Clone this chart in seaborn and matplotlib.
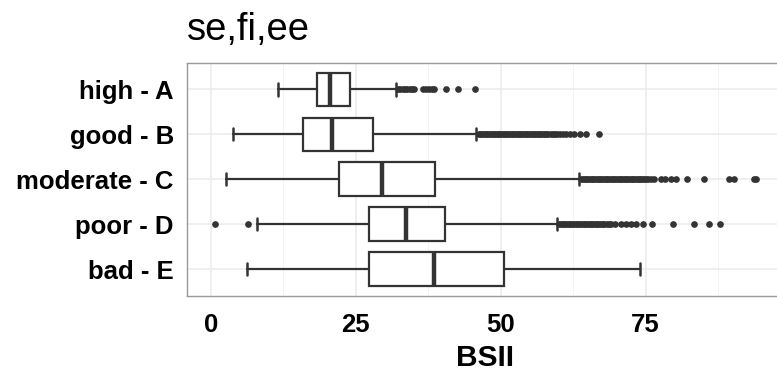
import matplotlib
matplotlib.use("Agg")
import matplotlib.pyplot as plt
import seaborn as sns

# categories (top to bottom)
categories = ["high - A", "good - B", "moderate - C", "poor - D", "bad - E"]

# box statistics
whisker_low = [11.6, 3.8, 2.7, 7.9, 6.3]
q1 = [18.4, 15.9, 22.1, 27.3, 27.3]
median = [20.6, 20.9, 29.6, 33.6, 38.5]
q3 = [24.0, 28.0, 38.6, 40.4, 50.5]
whisker_high = [31.9, 45.8, 63.5, 59.8, 74.1]

# outliers per category
fliers_a = [32.3, 32.7, 33.1, 33.5, 33.9, 34.3, 34.7, 35.1,
            36.6, 37.1, 37.6, 38.1, 38.5, 40.5, 42.7, 45.5]
fliers_b = [46.2, 46.5, 46.8, 47.1, 47.4, 47.7, 48.0, 48.3, 48.6, 48.9,
            49.2, 49.5, 49.8, 50.1, 50.4, 50.7, 51.0, 51.3, 51.6, 51.9,
            52.2, 52.5, 52.8, 53.1, 53.4, 53.7, 54.0, 54.3, 54.6, 54.9,
            55.2, 55.5, 55.8, 56.1, 56.4, 56.7, 57.0, 57.3, 57.6, 57.9,
            58.2, 58.6, 59.0, 59.4, 59.8, 60.2, 60.7, 61.2, 61.9, 62.6,
            63.7, 64.8, 66.9]
fliers_c = [63.9, 64.2, 64.5, 64.8, 65.1, 65.4, 65.7, 66.0, 66.3, 66.6,
            66.9, 67.2, 67.5, 67.8, 68.1, 68.4, 68.7, 69.0, 69.3, 69.6,
            69.9, 70.2, 70.5, 70.8, 71.1, 71.4, 71.7, 72.0, 72.3, 72.6,
            72.9, 73.2, 73.5, 73.8, 74.1, 74.4, 74.7, 75.0, 75.4, 75.9,
            76.4, 77.6, 78.4, 79.3, 80.2, 82.1, 85.0, 89.4, 90.2, 93.7, 94.1]
fliers_d = [0.7, 6.4,
            60.1, 60.4, 60.7, 61.0, 61.3, 61.6, 61.9, 62.2, 62.5, 62.8,
            63.1, 63.4, 63.7, 64.0, 64.3, 64.6, 64.9, 65.2, 65.5, 65.8,
            66.1, 66.4, 66.7, 67.0, 67.3, 67.6, 67.9, 68.3, 68.7, 69.0,
            69.8, 70.7, 71.6, 72.4, 73.4, 74.6, 76.1, 79.7, 83.3, 86.0, 87.8]
fliers_e = []
fliers = [fliers_a, fliers_b, fliers_c, fliers_d, fliers_e]

x_ticks = [0, 25, 50, 75]
x_minor = [12.5, 37.5, 62.5, 87.5]


def main():
    sns.set_style("whitegrid")
    plt.rcParams["font.family"] = ["Liberation Sans", "DejaVu Sans"]

    fig = plt.figure(figsize=(7.77, 3.76), dpi=100)
    ax = fig.add_axes([187 / 777, 1 - 296 / 376, 596 / 777, (296 - 62.5) / 376])

    stats = []
    for i, cat in enumerate(categories):
        stats.append({"label": cat, "whislo": whisker_low[i], "q1": q1[i],
                      "med": median[i], "q3": q3[i], "whishi": whisker_high[i],
                      "fliers": fliers[i]})

    dark = "#333333"
    ax.bxp(stats, positions=range(len(categories)), widths=0.75,
           orientation="horizontal", patch_artist=True, capwidths=0.27,
           boxprops=dict(facecolor="white", edgecolor=dark, linewidth=1.6),
           medianprops=dict(color=dark, linewidth=3.2),
           whiskerprops=dict(color=dark, linewidth=1.6),
           capprops=dict(color=dark, linewidth=1.8),
           flierprops=dict(marker="o", markerfacecolor=dark, markeredgecolor=dark,
                           markersize=3.8))

    ax.set_xlim(-4.1, 98.7)
    ax.set_ylim(len(categories) - 0.4, -0.6)
    ax.set_xticks(x_ticks)
    ax.set_xticks(x_minor, minor=True)
    ax.set_yticks(range(len(categories)))
    ax.set_yticklabels(categories)
    ax.set_axisbelow(True)
    ax.grid(which="major", color="#ebebeb", linewidth=1.1)
    ax.grid(which="minor", axis="x", color="#f4f4f4", linewidth=0.7)
    ax.grid(which="minor", axis="y", visible=False)

    for s in ax.spines.values():
        s.set_color("#999999")
        s.set_linewidth(1.0)
    ax.tick_params(which="major", length=4.5, width=1.0, color="#888888",
                   labelsize=18.5)
    ax.tick_params(axis="y", pad=5)
    ax.tick_params(axis="x", pad=8)
    ax.tick_params(which="minor", length=0)
    for lab in ax.get_xticklabels() + ax.get_yticklabels():
        lab.set_fontweight("bold")
        lab.set_color("black")

    ax.set_title("se,fi,ee", loc="left", fontsize=27.5, pad=16, color="black")
    ax.set_xlabel("BSII", fontsize=21.5, fontweight="bold", labelpad=5,
                  color="black")
    ax.set_ylabel("")

    fig.savefig("out.png", dpi=100)


if __name__ == "__main__":
    main()
